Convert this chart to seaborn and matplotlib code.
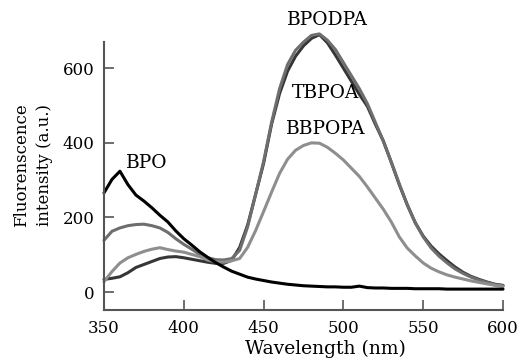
import numpy as np
import pandas as pd
import matplotlib
matplotlib.use("Agg")
import matplotlib.pyplot as plt
import seaborn as sns

wavelength = list(range(350, 605, 5))

bpo = [266, 302, 324, 288, 260, 244, 226, 206, 188, 164,
       143, 126, 108, 93, 79, 67, 56, 48, 40, 35,
       31, 27, 24, 21, 19, 17, 16, 15, 14, 14,
       13, 13, 16, 12, 11, 11, 10, 10, 10, 9,
       9, 9, 9, 8, 8, 8, 8, 8, 8, 8, 8]

bpodpa = [34, 37, 41, 52, 66, 74, 82, 90, 94, 95,
          92, 88, 84, 80, 77, 77, 85, 120, 180, 262,
          345, 450, 532, 592, 632, 660, 680, 690, 668, 635,
          600, 565, 530, 498, 450, 405, 348, 288, 234, 186,
          150, 123, 102, 84, 67, 53, 42, 34, 27, 21, 18]

tbpoa = [139, 163, 172, 178, 181, 182, 178, 172, 160, 143,
         128, 115, 101, 92, 87, 86, 90, 112, 175, 262,
         350, 455, 545, 610, 648, 670, 688, 692, 675, 650,
         615, 580, 545, 505, 455, 405, 348, 290, 234, 186,
         148, 118, 96, 78, 62, 50, 40, 32, 26, 20, 17]

bbpopa = [28, 55, 78, 92, 101, 109, 115, 119, 114, 110,
          107, 101, 95, 86, 81, 80, 84, 90, 120, 165,
          216, 268, 318, 356, 380, 393, 400, 399, 388, 372,
          354, 332, 310, 282, 252, 222, 188, 148, 118, 97,
          78, 64, 54, 46, 40, 35, 30, 26, 22, 18, 15]

names = ["BPODPA", "TBPOA", "BBPOPA", "BPO"]
series = [bpodpa, tbpoa, bbpopa, bpo]
colors = {"BPODPA": "#363636", "TBPOA": "#6e6e6e", "BBPOPA": "#8e8e8e", "BPO": "#000000"}

df = pd.concat([pd.DataFrame({"Wavelength": wavelength, "Intensity": vals, "Compound": name})
                for name, vals in zip(names, series)])

sns.set_style("ticks")
plt.rcParams["font.family"] = ["DejaVu Serif"]
plt.rcParams["text.color"] = "black"
plt.rcParams["axes.labelcolor"] = "black"

fig = plt.figure(figsize=(5.21, 3.63), dpi=100)
ax = fig.add_axes([0.1996, 0.146, 0.7659, 0.738])

sns.lineplot(data=df, x="Wavelength", y="Intensity", hue="Compound", palette=colors,
             hue_order=names, linewidth=2.2, legend=False, ax=ax)
for line in ax.lines:
    line.set_clip_on(False)

ax.set_xlim(350, 600)
ax.set_ylim(-48, 670)
ax.set_xticks([350, 400, 450, 500, 550, 600])
ax.set_yticks([0, 200, 400, 600])

for side in ["top", "right"]:
    ax.spines[side].set_visible(False)
for side in ["left", "bottom"]:
    ax.spines[side].set_color("#555555")
    ax.spines[side].set_linewidth(1.5)
ax.tick_params(direction="in", length=7.5, width=1.2, color="#555555",
               labelsize=12, labelcolor="black", pad=7)

ax.set_xlabel("Wavelength (nm)", fontsize=13.5)
ax.set_ylabel("Fluorenscence\nintensity (a.u.)", fontsize=12, linespacing=1.45)
ax.xaxis.set_label_coords(0.555, -0.11)
ax.yaxis.set_label_coords(-0.128, 0.54)

ax.text(490, 729, "BPODPA", fontsize=13.5, ha="center", va="center", clip_on=False)
ax.text(468, 533, "TBPOA", fontsize=13.5, ha="left", va="center")
ax.text(464, 437, "BBPOPA", fontsize=13.5, ha="left", va="center")
ax.text(364, 347, "BPO", fontsize=13.5, ha="left", va="center")

fig.savefig("out.png", dpi=100)
